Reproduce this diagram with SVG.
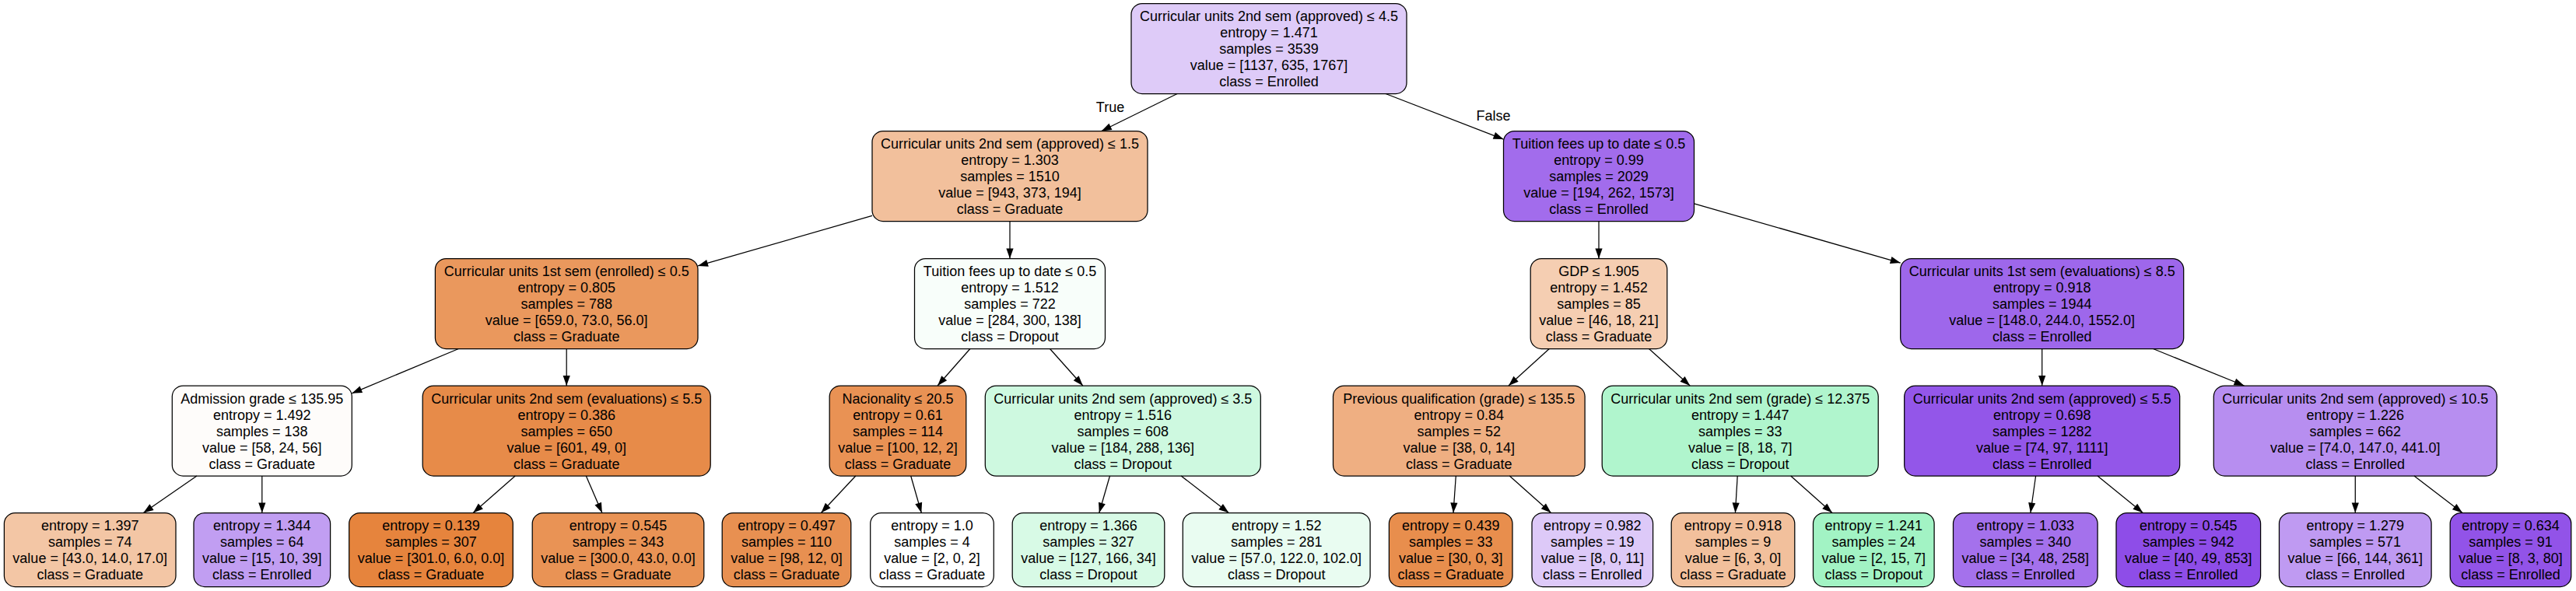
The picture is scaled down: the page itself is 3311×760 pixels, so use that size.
<svg xmlns="http://www.w3.org/2000/svg" width="3311" height="760" viewBox="0 0 3311 760">
<style>
  .n rect { stroke: #000; stroke-width: 1.25; }
  text { font-family: "Liberation Sans", Arial, Helvetica, sans-serif; font-size: 18px; text-anchor: middle; fill: #000; }
  .e path { stroke: #000; stroke-width: 1.25; fill: none; marker-end: url(#arr); }
</style>
<defs>
  <marker id="arr" markerWidth="14" markerHeight="10" refX="13" refY="4.6" orient="auto" markerUnits="userSpaceOnUse" overflow="visible">
    <path d="M0,0 L13,4.6 L0,9.2 z" fill="#000"/>
  </marker>
</defs>
<rect x="0" y="0" width="3311" height="760" fill="#fff"/>

<g id="n0" class="n"><rect x="1454" y="4.5" width="354" height="116" rx="14" fill="#decbf8"/>
<text x="1631" y="27"><tspan x="1631">Curricular units 2nd sem (approved) ≤ 4.5</tspan><tspan x="1631" dy="21">entropy = 1.471</tspan><tspan x="1631" dy="21">samples = 3539</tspan><tspan x="1631" dy="21">value = [1137, 635, 1767]</tspan><tspan x="1631" dy="21">class = Enrolled</tspan></text></g>

<g id="n1" class="n"><rect x="1121" y="168.5" width="354" height="116" rx="14" fill="#f2c09c"/>
<text x="1298" y="191"><tspan x="1298">Curricular units 2nd sem (approved) ≤ 1.5</tspan><tspan x="1298" dy="21">entropy = 1.303</tspan><tspan x="1298" dy="21">samples = 1510</tspan><tspan x="1298" dy="21">value = [943, 373, 194]</tspan><tspan x="1298" dy="21">class = Graduate</tspan></text></g>

<g id="n2" class="n"><rect x="1932.5" y="168.5" width="245" height="116" rx="14" fill="#a26cec"/>
<text x="2055" y="191"><tspan x="2055">Tuition fees up to date ≤ 0.5</tspan><tspan x="2055" dy="21">entropy = 0.99</tspan><tspan x="2055" dy="21">samples = 2029</tspan><tspan x="2055" dy="21">value = [194, 262, 1573]</tspan><tspan x="2055" dy="21">class = Enrolled</tspan></text></g>

<g id="n3" class="n"><rect x="559.4" y="332.5" width="337.6" height="116" rx="14" fill="#ea985d"/>
<text x="728.2" y="355"><tspan x="728.2">Curricular units 1st sem (enrolled) ≤ 0.5</tspan><tspan x="728.2" dy="21">entropy = 0.805</tspan><tspan x="728.2" dy="21">samples = 788</tspan><tspan x="728.2" dy="21">value = [659.0, 73.0, 56.0]</tspan><tspan x="728.2" dy="21">class = Graduate</tspan></text></g>

<g id="n4" class="n"><rect x="1175.5" y="332.5" width="245" height="116" rx="14" fill="#f8fefa"/>
<text x="1298" y="355"><tspan x="1298">Tuition fees up to date ≤ 0.5</tspan><tspan x="1298" dy="21">entropy = 1.512</tspan><tspan x="1298" dy="21">samples = 722</tspan><tspan x="1298" dy="21">value = [284, 300, 138]</tspan><tspan x="1298" dy="21">class = Dropout</tspan></text></g>

<g id="n5" class="n"><rect x="1967.2" y="332.5" width="175.6" height="116" rx="14" fill="#f5ceb2"/>
<text x="2055" y="355"><tspan x="2055">GDP ≤ 1.905</tspan><tspan x="2055" dy="21">entropy = 1.452</tspan><tspan x="2055" dy="21">samples = 85</tspan><tspan x="2055" dy="21">value = [46, 18, 21]</tspan><tspan x="2055" dy="21">class = Graduate</tspan></text></g>

<g id="n6" class="n"><rect x="2442.7" y="332.5" width="364" height="116" rx="14" fill="#9e67eb"/>
<text x="2624.7" y="355"><tspan x="2624.7">Curricular units 1st sem (evaluations) ≤ 8.5</tspan><tspan x="2624.7" dy="21">entropy = 0.918</tspan><tspan x="2624.7" dy="21">samples = 1944</tspan><tspan x="2624.7" dy="21">value = [148.0, 244.0, 1552.0]</tspan><tspan x="2624.7" dy="21">class = Enrolled</tspan></text></g>

<g id="n7" class="n"><rect x="221.3" y="496" width="231" height="116" rx="14" fill="#fefcfa"/>
<text x="336.8" y="518.5"><tspan x="336.8">Admission grade ≤ 135.95</tspan><tspan x="336.8" dy="21">entropy = 1.492</tspan><tspan x="336.8" dy="21">samples = 138</tspan><tspan x="336.8" dy="21">value = [58, 24, 56]</tspan><tspan x="336.8" dy="21">class = Graduate</tspan></text></g>

<g id="n8" class="n"><rect x="543.2" y="496" width="370" height="116" rx="14" fill="#e78b49"/>
<text x="728.2" y="518.5"><tspan x="728.2">Curricular units 2nd sem (evaluations) ≤ 5.5</tspan><tspan x="728.2" dy="21">entropy = 0.386</tspan><tspan x="728.2" dy="21">samples = 650</tspan><tspan x="728.2" dy="21">value = [601, 49, 0]</tspan><tspan x="728.2" dy="21">class = Graduate</tspan></text></g>

<g id="n9" class="n"><rect x="1066.2" y="496" width="175.6" height="116" rx="14" fill="#e99254"/>
<text x="1154" y="518.5"><tspan x="1154">Nacionality ≤ 20.5</tspan><tspan x="1154" dy="21">entropy = 0.61</tspan><tspan x="1154" dy="21">samples = 114</tspan><tspan x="1154" dy="21">value = [100, 12, 2]</tspan><tspan x="1154" dy="21">class = Graduate</tspan></text></g>

<g id="n10" class="n"><rect x="1266.3" y="496" width="354" height="116" rx="14" fill="#cef9e0"/>
<text x="1443.3" y="518.5"><tspan x="1443.3">Curricular units 2nd sem (approved) ≤ 3.5</tspan><tspan x="1443.3" dy="21">entropy = 1.516</tspan><tspan x="1443.3" dy="21">samples = 608</tspan><tspan x="1443.3" dy="21">value = [184, 288, 136]</tspan><tspan x="1443.3" dy="21">class = Dropout</tspan></text></g>

<g id="n11" class="n"><rect x="1713.5" y="496" width="323.6" height="116" rx="14" fill="#efaf82"/>
<text x="1875.3" y="518.5"><tspan x="1875.3">Previous qualification (grade) ≤ 135.5</tspan><tspan x="1875.3" dy="21">entropy = 0.84</tspan><tspan x="1875.3" dy="21">samples = 52</tspan><tspan x="1875.3" dy="21">value = [38, 0, 14]</tspan><tspan x="1875.3" dy="21">class = Graduate</tspan></text></g>

<g id="n12" class="n"><rect x="2059.2" y="496" width="355" height="116" rx="14" fill="#b0f5cd"/>
<text x="2236.7" y="518.5"><tspan x="2236.7">Curricular units 2nd sem (grade) ≤ 12.375</tspan><tspan x="2236.7" dy="21">entropy = 1.447</tspan><tspan x="2236.7" dy="21">samples = 33</tspan><tspan x="2236.7" dy="21">value = [8, 18, 7]</tspan><tspan x="2236.7" dy="21">class = Dropout</tspan></text></g>

<g id="n13" class="n"><rect x="2447.7" y="496" width="354" height="116" rx="14" fill="#9356e9"/>
<text x="2624.7" y="518.5"><tspan x="2624.7">Curricular units 2nd sem (approved) ≤ 5.5</tspan><tspan x="2624.7" dy="21">entropy = 0.698</tspan><tspan x="2624.7" dy="21">samples = 1282</tspan><tspan x="2624.7" dy="21">value = [74, 97, 1111]</tspan><tspan x="2624.7" dy="21">class = Enrolled</tspan></text></g>

<g id="n14" class="n"><rect x="2845.3" y="496" width="364" height="116" rx="14" fill="#b78ef0"/>
<text x="3027.3" y="518.5"><tspan x="3027.3">Curricular units 2nd sem (approved) ≤ 10.5</tspan><tspan x="3027.3" dy="21">entropy = 1.226</tspan><tspan x="3027.3" dy="21">samples = 662</tspan><tspan x="3027.3" dy="21">value = [74.0, 147.0, 441.0]</tspan><tspan x="3027.3" dy="21">class = Enrolled</tspan></text></g>

<g id="l0" class="n"><rect x="5.4" y="659.5" width="220.6" height="95" rx="14" fill="#f3c6a5"/>
<text x="115.7" y="682"><tspan x="115.7">entropy = 1.397</tspan><tspan x="115.7" dy="21">samples = 74</tspan><tspan x="115.7" dy="21">value = [43.0, 14.0, 17.0]</tspan><tspan x="115.7" dy="21">class = Graduate</tspan></text></g>

<g id="l1" class="n"><rect x="249" y="659.5" width="175.6" height="95" rx="14" fill="#c19ef2"/>
<text x="336.8" y="682"><tspan x="336.8">entropy = 1.344</tspan><tspan x="336.8" dy="21">samples = 64</tspan><tspan x="336.8" dy="21">value = [15, 10, 39]</tspan><tspan x="336.8" dy="21">class = Enrolled</tspan></text></g>

<g id="l2" class="n"><rect x="448.7" y="659.5" width="210.6" height="95" rx="14" fill="#e6843d"/>
<text x="554" y="682"><tspan x="554">entropy = 0.139</tspan><tspan x="554" dy="21">samples = 307</tspan><tspan x="554" dy="21">value = [301.0, 6.0, 0.0]</tspan><tspan x="554" dy="21">class = Graduate</tspan></text></g>

<g id="l3" class="n"><rect x="684.2" y="659.5" width="220.6" height="95" rx="14" fill="#e99355"/>
<text x="794.5" y="682"><tspan x="794.5">entropy = 0.545</tspan><tspan x="794.5" dy="21">samples = 343</tspan><tspan x="794.5" dy="21">value = [300.0, 43.0, 0.0]</tspan><tspan x="794.5" dy="21">class = Graduate</tspan></text></g>

<g id="l4" class="n"><rect x="928.2" y="659.5" width="165.6" height="95" rx="14" fill="#e89051"/>
<text x="1011" y="682"><tspan x="1011">entropy = 0.497</tspan><tspan x="1011" dy="21">samples = 110</tspan><tspan x="1011" dy="21">value = [98, 12, 0]</tspan><tspan x="1011" dy="21">class = Graduate</tspan></text></g>

<g id="l5" class="n"><rect x="1118.7" y="659.5" width="158.6" height="95" rx="14" fill="#ffffff"/>
<text x="1198" y="682"><tspan x="1198">entropy = 1.0</tspan><tspan x="1198" dy="21">samples = 4</tspan><tspan x="1198" dy="21">value = [2, 0, 2]</tspan><tspan x="1198" dy="21">class = Graduate</tspan></text></g>

<g id="l6" class="n"><rect x="1301.2" y="659.5" width="195.6" height="95" rx="14" fill="#d8fae6"/>
<text x="1399" y="682"><tspan x="1399">entropy = 1.366</tspan><tspan x="1399" dy="21">samples = 327</tspan><tspan x="1399" dy="21">value = [127, 166, 34]</tspan><tspan x="1399" dy="21">class = Dropout</tspan></text></g>

<g id="l7" class="n"><rect x="1520.3" y="659.5" width="240.8" height="95" rx="14" fill="#e9fcf1"/>
<text x="1640.7" y="682"><tspan x="1640.7">entropy = 1.52</tspan><tspan x="1640.7" dy="21">samples = 281</tspan><tspan x="1640.7" dy="21">value = [57.0, 122.0, 102.0]</tspan><tspan x="1640.7" dy="21">class = Dropout</tspan></text></g>

<g id="l8" class="n"><rect x="1785.4" y="659.5" width="158.6" height="95" rx="14" fill="#e88e4d"/>
<text x="1864.7" y="682"><tspan x="1864.7">entropy = 0.439</tspan><tspan x="1864.7" dy="21">samples = 33</tspan><tspan x="1864.7" dy="21">value = [30, 0, 3]</tspan><tspan x="1864.7" dy="21">class = Graduate</tspan></text></g>

<g id="l9" class="n"><rect x="1969" y="659.5" width="155.6" height="95" rx="14" fill="#ddc9f8"/>
<text x="2046.8" y="682"><tspan x="2046.8">entropy = 0.982</tspan><tspan x="2046.8" dy="21">samples = 19</tspan><tspan x="2046.8" dy="21">value = [8, 0, 11]</tspan><tspan x="2046.8" dy="21">class = Enrolled</tspan></text></g>

<g id="l10" class="n"><rect x="2148.2" y="659.5" width="158.6" height="95" rx="14" fill="#f2c09c"/>
<text x="2227.5" y="682"><tspan x="2227.5">entropy = 0.918</tspan><tspan x="2227.5" dy="21">samples = 9</tspan><tspan x="2227.5" dy="21">value = [6, 3, 0]</tspan><tspan x="2227.5" dy="21">class = Graduate</tspan></text></g>

<g id="l11" class="n"><rect x="2330.5" y="659.5" width="155.6" height="95" rx="14" fill="#a2f3c4"/>
<text x="2408.3" y="682"><tspan x="2408.3">entropy = 1.241</tspan><tspan x="2408.3" dy="21">samples = 24</tspan><tspan x="2408.3" dy="21">value = [2, 15, 7]</tspan><tspan x="2408.3" dy="21">class = Dropout</tspan></text></g>

<g id="l12" class="n"><rect x="2510.5" y="659.5" width="185.6" height="95" rx="14" fill="#a471ec"/>
<text x="2603.3" y="682"><tspan x="2603.3">entropy = 1.033</tspan><tspan x="2603.3" dy="21">samples = 340</tspan><tspan x="2603.3" dy="21">value = [34, 48, 258]</tspan><tspan x="2603.3" dy="21">class = Enrolled</tspan></text></g>

<g id="l13" class="n"><rect x="2720" y="659.5" width="185.6" height="95" rx="14" fill="#8e4de8"/>
<text x="2812.8" y="682"><tspan x="2812.8">entropy = 0.545</tspan><tspan x="2812.8" dy="21">samples = 942</tspan><tspan x="2812.8" dy="21">value = [40, 49, 853]</tspan><tspan x="2812.8" dy="21">class = Enrolled</tspan></text></g>

<g id="l14" class="n"><rect x="2929.5" y="659.5" width="195.6" height="95" rx="14" fill="#bf9af2"/>
<text x="3027.3" y="682"><tspan x="3027.3">entropy = 1.279</tspan><tspan x="3027.3" dy="21">samples = 571</tspan><tspan x="3027.3" dy="21">value = [66, 144, 361]</tspan><tspan x="3027.3" dy="21">class = Enrolled</tspan></text></g>

<g id="l15" class="n"><rect x="3149.2" y="659.5" width="155.6" height="95" rx="14" fill="#9253e8"/>
<text x="3227" y="682"><tspan x="3227">entropy = 0.634</tspan><tspan x="3227" dy="21">samples = 91</tspan><tspan x="3227" dy="21">value = [8, 3, 80]</tspan><tspan x="3227" dy="21">class = Enrolled</tspan></text></g>

<g id="connectors" class="e">
  <path d="M1513.2,120.5 L1415.8,168.5"/>
  <path d="M1781,120.5 L1932.5,179.1"/>
  <path d="M1121,277.4 L897,341.9"/>
  <path d="M1298,284.5 L1298,332.5"/>
  <path d="M2055,284.5 L2055,332.5"/>
  <path d="M2177.5,261.8 L2442.7,338.1"/>
  <path d="M589.4,448.5 L452.3,505.8"/>
  <path d="M728.2,448.5 L728.2,496"/>
  <path d="M1246.9,448.5 L1205.1,496"/>
  <path d="M1349.5,448.5 L1391.8,496"/>
  <path d="M1991.3,448.5 L1939,496"/>
  <path d="M2119.5,448.5 L2172.2,496"/>
  <path d="M2624.7,448.5 L2624.7,496"/>
  <path d="M2767.5,448.5 L2884.5,496"/>
  <path d="M253,612 L184.3,659.5"/>
  <path d="M336.8,612 L336.8,659.5"/>
  <path d="M662.2,612 L608.1,659.5"/>
  <path d="M753.3,612 L773.9,659.5"/>
  <path d="M1099.8,612 L1055.4,659.5"/>
  <path d="M1170.7,612 L1184.3,659.5"/>
  <path d="M1426.5,612 L1412.8,659.5"/>
  <path d="M1518.1,612 L1579.4,659.5"/>
  <path d="M1871.3,612 L1868,659.5"/>
  <path d="M1940.3,612 L1993.6,659.5"/>
  <path d="M2233.2,612 L2230.4,659.5"/>
  <path d="M2301.7,612 L2355,659.5"/>
  <path d="M2616.6,612 L2609.9,659.5"/>
  <path d="M2696,612 L2754.4,659.5"/>
  <path d="M3027.3,612 L3027.3,659.5"/>
  <path d="M3103,612 L3165,659.5"/>
  <text x="1427" y="144">True</text>
  <text x="1919.5" y="155">False</text>
</g>
</svg>
